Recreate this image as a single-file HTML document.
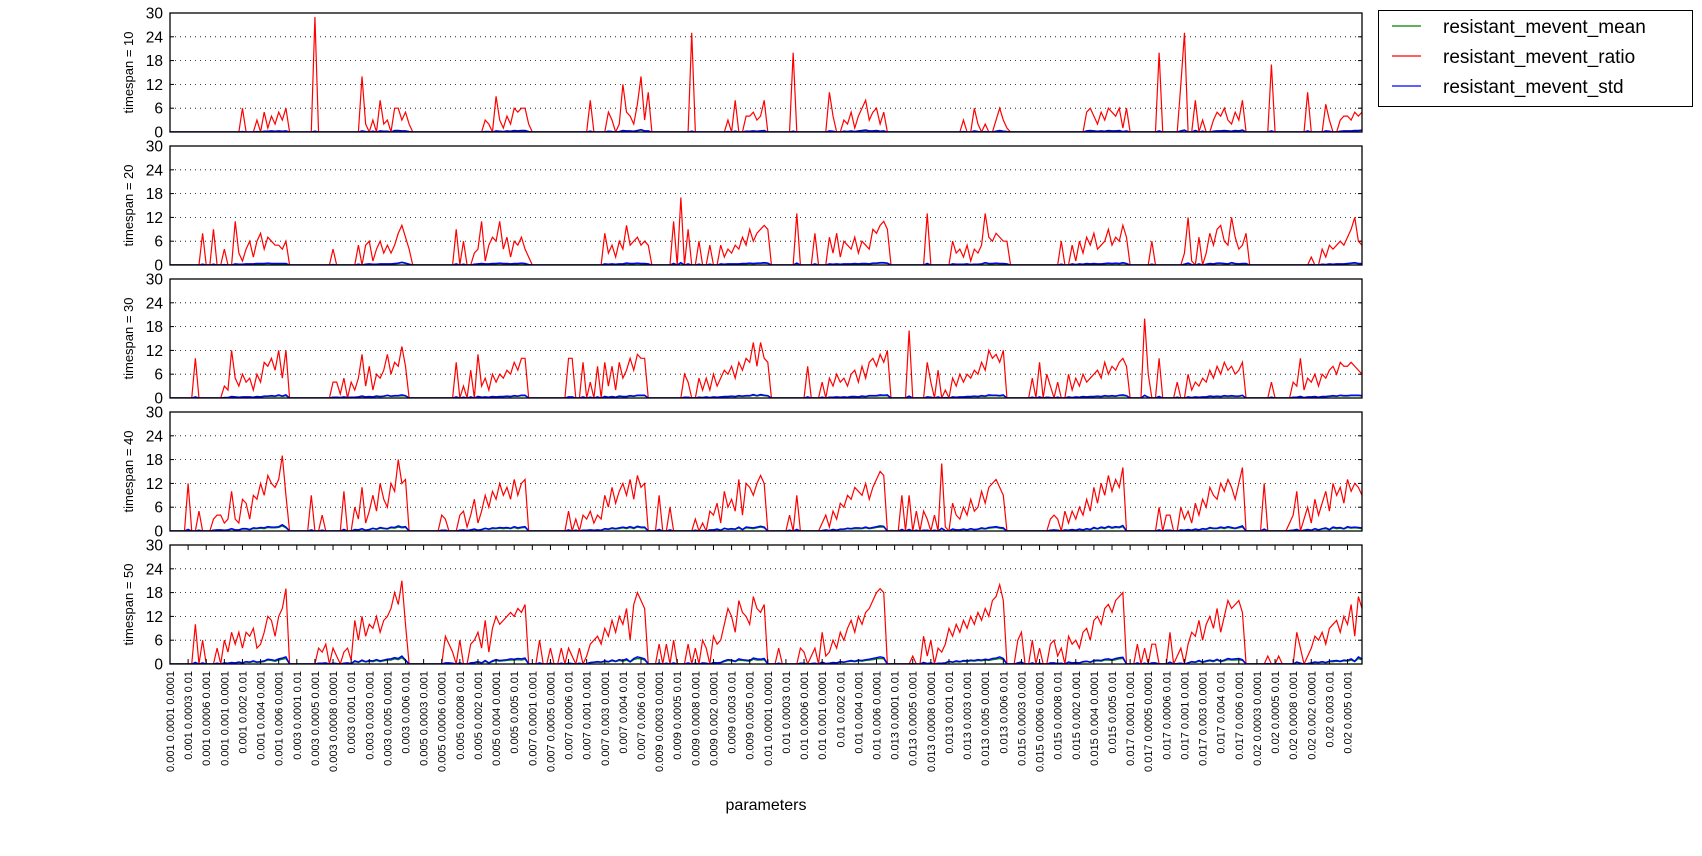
<!DOCTYPE html>
<html><head><meta charset="utf-8"><style>
html,body{margin:0;padding:0;background:#fff;}
svg{display:block;font-family:"Liberation Sans",sans-serif;}
</style></head><body>
<svg id="chart" width="1702" height="856" viewBox="0 0 1702 856" xmlns="http://www.w3.org/2000/svg">
<rect x="0" y="0" width="1702" height="856" fill="#fff"/>
<g id="panels"></g>
<g id="xlabels"></g>
<text x="766" y="810" font-size="16" text-anchor="middle">parameters</text>
<g>
<rect x="1378.5" y="10.5" width="314" height="96" fill="#fff" stroke="#000" stroke-width="1"/>
<g><line x1="1392" y1="26" x2="1421" y2="26" stroke="#008000" stroke-width="1.2"/><text x="1443" y="33" font-size="19">resistant_mevent_mean</text></g>
<g><line x1="1392" y1="56" x2="1421" y2="56" stroke="#ff0000" stroke-width="1.2"/><text x="1443" y="63" font-size="19">resistant_mevent_ratio</text></g>
<g><line x1="1392" y1="86" x2="1421" y2="86" stroke="#0000ff" stroke-width="1.2"/><text x="1443" y="93" font-size="19">resistant_mevent_std</text></g>
</g>
</svg>
<script>
const param1 = ["0.001","0.003","0.005","0.007","0.009","0.01","0.013","0.015","0.017","0.02"];
const param2 = ["0.0001","0.0003","0.0005","0.0006","0.0008","0.001","0.002","0.003","0.004","0.005","0.006"];
const param3 = ["0.0001","0.001","0.01"];
const timespans = [10,20,30,40,50];
const yTicks = [0,6,12,18,24,30];

const ratio10 = [
0,0,0,0,0,0,0,0,0,0,0,0,0,0,0,0,0,0,0,0,6,0,0,0,3,0,5,1,4,2,5,3,6,
0,0,0,0,0,0,0,29,0,0,0,0,0,0,0,0,0,0,0,0,14,2,0,3,0,8,2,3,0,6,6,3,5,
2,0,0,0,0,0,0,0,0,0,0,0,0,0,0,0,0,0,0,0,0,3,2,0,9,3,1,4,2,6,5,6,6,
2,0,0,0,0,0,0,0,0,0,0,0,0,0,0,0,0,8,0,0,0,0,5,3,0,2,12,5,4,2,7,14,3,
10,0,0,0,0,0,0,0,0,0,0,0,25,0,0,0,0,0,0,0,0,0,3,0,8,0,0,4,4,5,3,4,8,
0,0,0,0,0,0,0,20,0,0,0,0,0,0,0,0,0,10,4,0,0,3,2,5,1,4,6,8,3,5,6,2,5,
0,0,0,0,0,0,0,0,0,0,0,0,0,0,0,0,0,0,0,0,0,3,0,0,6,2,0,2,0,0,3,6,3,
1,0,0,0,0,0,0,0,0,0,0,0,0,0,0,0,0,0,0,0,0,0,5,6,4,2,5,3,6,5,4,6,1,
6,0,0,0,0,0,0,0,0,20,0,0,0,0,0,12,25,0,0,8,0,3,0,0,3,5,4,6,3,2,5,3,8,
0,0,0,0,0,0,0,17,0,0,0,0,0,0,0,0,0,10,0,0,0,0,7,3,0,0,3,4,4,3,5,4,5];
const std10 = [
0,0,0,0,0,0,0,0,0,0,0,0,0,0,0,0,0,0,0,0,0.1,0,0,0,0.1,0,0.2,0.2,0.3,0.2,0.3,0.2,0.3,
0,0,0,0,0,0,0,0.2,0,0,0,0,0,0,0,0,0,0,0,0,0.3,0.1,0,0.2,0,0.3,0.2,0.2,0,0.4,0.4,0.3,0.3,
0.1,0,0,0,0,0,0,0,0,0,0,0,0,0,0,0,0,0,0,0,0,0.1,0.1,0,0.3,0.2,0.1,0.3,0.2,0.4,0.3,0.4,0.4,
0.1,0,0,0,0,0,0,0,0,0,0,0,0,0,0,0,0,0.2,0,0,0,0,0.2,0.1,0,0.1,0.4,0.3,0.3,0.2,0.4,0.6,0.3,
0.3,0,0,0,0,0,0,0,0,0,0,0,0.2,0,0,0,0,0,0,0,0,0,0.1,0,0.2,0,0,0.2,0.2,0.3,0.2,0.3,0.4,
0,0,0,0,0,0,0,0.2,0,0,0,0,0,0,0,0,0,0.3,0.2,0,0,0.2,0.1,0.3,0.1,0.3,0.4,0.5,0.3,0.3,0.4,0.2,0.3,
0,0,0,0,0,0,0,0,0,0,0,0,0,0,0,0,0,0,0,0,0,0.1,0,0,0.3,0.1,0,0.1,0,0,0.2,0.4,0.2,
0.1,0,0,0,0,0,0,0,0,0,0,0,0,0,0,0,0,0,0,0,0,0,0.3,0.4,0.3,0.2,0.3,0.2,0.4,0.3,0.3,0.4,0.1,
0.3,0,0,0,0,0,0,0,0,0.3,0,0,0,0,0,0.3,0.5,0,0,0.4,0,0.2,0,0,0.2,0.3,0.3,0.4,0.3,0.2,0.4,0.3,0.5,
0,0,0,0,0,0,0,0.3,0,0,0,0,0,0,0,0,0,0.3,0,0,0,0,0.3,0.2,0,0,0.2,0.3,0.3,0.3,0.4,0.4,0.5];
const mean10 = [
0,0,0,0,0,0,0,0,0,0,0,0,0,0,0,0,0,0,0,0,0.1,0,0,0,0.1,0,0.2,0.2,0.2,0.2,0.2,0.2,0.2,
0,0,0,0,0,0,0,0.2,0,0,0,0,0,0,0,0,0,0,0,0,0.2,0.1,0,0.2,0,0.2,0.2,0.2,0,0.3,0.3,0.2,0.2,
0.1,0,0,0,0,0,0,0,0,0,0,0,0,0,0,0,0,0,0,0,0,0.1,0.1,0,0.2,0.2,0.1,0.2,0.2,0.3,0.2,0.3,0.3,
0.1,0,0,0,0,0,0,0,0,0,0,0,0,0,0,0,0,0.2,0,0,0,0,0.2,0.1,0,0.1,0.3,0.2,0.2,0.2,0.3,0.5,0.2,
0.2,0,0,0,0,0,0,0,0,0,0,0,0.2,0,0,0,0,0,0,0,0,0,0.1,0,0.2,0,0,0.2,0.2,0.2,0.2,0.2,0.3,
0,0,0,0,0,0,0,0.2,0,0,0,0,0,0,0,0,0,0.2,0.2,0,0,0.2,0.1,0.2,0.1,0.2,0.3,0.4,0.2,0.2,0.3,0.2,0.2,
0,0,0,0,0,0,0,0,0,0,0,0,0,0,0,0,0,0,0,0,0,0.1,0,0,0.2,0.1,0,0.1,0,0,0.2,0.3,0.2,
0.1,0,0,0,0,0,0,0,0,0,0,0,0,0,0,0,0,0,0,0,0,0,0.2,0.3,0.2,0.2,0.2,0.2,0.3,0.2,0.2,0.3,0.1,
0.2,0,0,0,0,0,0,0,0,0.2,0,0,0,0,0,0.2,0.4,0,0,0.3,0,0.2,0,0,0.2,0.2,0.2,0.3,0.2,0.2,0.3,0.2,0.4,
0,0,0,0,0,0,0,0.2,0,0,0,0,0,0,0,0,0,0.2,0,0,0,0,0.2,0.2,0,0,0.2,0.2,0.2,0.2,0.3,0.3,0.4];

const ratio20 = [
0,0,0,0,0,0,0,0,0,8,0,0,9,0,0,4,0,0,11,3,1,4,6,2,6,8,4,7,6,5,5,4,6,
0,0,0,0,0,0,0,0,0,0,0,0,4,0,0,0,0,0,0,5,0,5,6,1,4,6,3,5,3,5,8,10,7,
4,0,0,0,0,0,0,0,0,0,0,0,0,9,0,6,0,0,3,4,11,1,5,7,6,11,4,7,2,6,5,7,4,
2,0,0,0,0,0,0,0,0,0,0,0,0,0,0,0,0,0,0,0,0,8,3,5,2,6,4,10,5,6,7,5,6,
5,0,0,0,0,0,0,11,0,17,0,9,0,0,6,0,0,5,0,0,5,2,4,3,5,4,7,5,9,6,8,9,10,
9,0,0,0,0,0,0,0,13,0,0,0,0,8,0,0,0,7,3,8,2,6,5,4,7,3,6,5,4,9,8,10,11,
9,0,0,0,0,0,0,0,0,0,0,13,0,0,0,0,0,0,6,3,4,2,5,1,4,3,5,13,7,6,8,7,6,
6,0,0,0,0,0,0,0,0,0,0,0,0,0,0,6,0,0,5,1,6,3,7,5,8,4,5,6,9,5,7,6,10,
7,0,0,0,0,0,0,6,0,0,0,0,0,0,0,0,3,12,1,0,7,0,3,8,5,9,10,6,5,12,7,4,5,
8,0,0,0,0,0,0,0,0,0,0,0,0,0,0,0,0,0,2,0,0,4,2,5,4,5,6,5,7,9,12,6,5];
const std20 = [
0,0,0,0,0,0,0,0,0,0.2,0,0,0.2,0,0,0.1,0,0,0.3,0.2,0.2,0.3,0.3,0.3,0.4,0.4,0.4,0.5,0.4,0.4,0.4,0.4,0.4,
0,0,0,0,0,0,0,0,0,0,0,0,0.1,0,0,0,0,0,0,0.2,0,0.2,0.3,0.2,0.2,0.3,0.3,0.3,0.3,0.4,0.5,0.7,0.5,
0.2,0,0,0,0,0,0,0,0,0,0,0,0,0.3,0,0.2,0,0,0.2,0.3,0.4,0.3,0.3,0.4,0.4,0.5,0.4,0.4,0.3,0.4,0.4,0.5,0.4,
0.1,0,0,0,0,0,0,0,0,0,0,0,0,0,0,0,0,0,0,0,0,0.3,0.2,0.3,0.2,0.3,0.3,0.5,0.4,0.4,0.5,0.4,0.4,
0.3,0,0,0,0,0,0,0.4,0,0.6,0,0.3,0,0,0.2,0,0,0.2,0,0,0.3,0.2,0.3,0.3,0.3,0.3,0.4,0.4,0.5,0.4,0.5,0.5,0.6,
0.5,0,0,0,0,0,0,0,0.5,0,0,0,0,0.3,0,0,0,0.3,0.2,0.3,0.2,0.3,0.3,0.3,0.4,0.3,0.4,0.4,0.3,0.5,0.5,0.6,0.6,
0.5,0,0,0,0,0,0,0,0,0,0,0.4,0,0,0,0,0,0,0.3,0.2,0.2,0.2,0.3,0.1,0.2,0.2,0.3,0.6,0.4,0.4,0.5,0.4,0.4,
0.3,0,0,0,0,0,0,0,0,0,0,0,0,0,0,0.2,0,0,0.3,0.1,0.3,0.2,0.4,0.3,0.4,0.3,0.3,0.4,0.5,0.4,0.5,0.4,0.6,
0.4,0,0,0,0,0,0,0.2,0,0,0,0,0,0,0,0,0.2,0.5,0.1,0,0.3,0,0.2,0.4,0.3,0.5,0.5,0.4,0.3,0.6,0.4,0.3,0.4,
0.4,0,0,0,0,0,0,0,0,0,0,0,0,0,0,0,0,0,0.1,0,0,0.2,0.1,0.3,0.2,0.3,0.3,0.3,0.4,0.5,0.6,0.4,0.4];
const mean20 = [
0,0,0,0,0,0,0,0,0,0.2,0,0,0.2,0,0,0.1,0,0,0.2,0.2,0.2,0.2,0.2,0.2,0.3,0.3,0.3,0.4,0.3,0.3,0.3,0.3,0.3,
0,0,0,0,0,0,0,0,0,0,0,0,0.1,0,0,0,0,0,0,0.2,0,0.2,0.2,0.2,0.2,0.2,0.2,0.2,0.2,0.3,0.4,0.6,0.4,
0.2,0,0,0,0,0,0,0,0,0,0,0,0,0.2,0,0.2,0,0,0.2,0.2,0.3,0.2,0.2,0.3,0.3,0.4,0.3,0.3,0.2,0.3,0.3,0.4,0.3,
0.1,0,0,0,0,0,0,0,0,0,0,0,0,0,0,0,0,0,0,0,0,0.2,0.2,0.2,0.2,0.2,0.2,0.4,0.3,0.3,0.4,0.3,0.3,
0.2,0,0,0,0,0,0,0.3,0,0.5,0,0.2,0,0,0.2,0,0,0.2,0,0,0.2,0.2,0.2,0.2,0.2,0.2,0.3,0.3,0.4,0.3,0.4,0.4,0.5,
0.4,0,0,0,0,0,0,0,0.4,0,0,0,0,0.2,0,0,0,0.2,0.2,0.2,0.2,0.2,0.2,0.2,0.3,0.2,0.3,0.3,0.2,0.4,0.4,0.5,0.5,
0.4,0,0,0,0,0,0,0,0,0,0,0.3,0,0,0,0,0,0,0.2,0.2,0.2,0.2,0.2,0.1,0.2,0.2,0.2,0.5,0.3,0.3,0.4,0.3,0.3,
0.2,0,0,0,0,0,0,0,0,0,0,0,0,0,0,0.2,0,0,0.2,0.1,0.2,0.2,0.3,0.2,0.3,0.2,0.2,0.3,0.4,0.3,0.4,0.3,0.5,
0.3,0,0,0,0,0,0,0.2,0,0,0,0,0,0,0,0,0.2,0.4,0.1,0,0.2,0,0.2,0.3,0.2,0.4,0.4,0.3,0.2,0.5,0.3,0.2,0.3,
0.3,0,0,0,0,0,0,0,0,0,0,0,0,0,0,0,0,0,0.1,0,0,0.2,0.1,0.2,0.2,0.2,0.2,0.2,0.3,0.4,0.5,0.3,0.3];

const ratio30 = [
0,0,0,0,0,0,0,10,0,0,0,0,0,0,0,3,2,12,5,3,6,4,5,2,6,4,9,8,10,7,12,5,12,
0,0,0,0,0,0,0,0,0,0,0,0,4,4,1,5,0,4,2,5,11,3,8,2,6,5,7,11,6,9,8,13,8,
0,0,0,0,0,0,0,0,0,0,0,0,0,9,0,3,0,7,0,11,3,5,2,6,4,6,5,7,6,9,7,10,10,
0,0,0,0,0,0,0,0,0,0,0,10,10,0,0,9,0,4,0,8,0,9,3,8,2,9,5,7,10,7,11,10,10,
0,0,0,0,0,0,0,0,0,0,6,4,0,0,5,2,5,2,6,3,5,7,6,8,5,9,7,10,9,14,8,14,10,
9,0,0,0,0,0,0,0,0,0,0,8,0,0,0,4,0,5,3,6,4,5,3,6,7,4,8,5,9,10,8,11,9,
12,0,0,0,0,0,17,0,0,0,0,9,4,0,7,0,2,0,5,3,6,4,6,5,7,6,9,7,12,10,11,9,12,
0,0,0,0,0,0,0,5,0,9,0,6,3,0,4,0,0,6,2,5,3,6,4,5,6,7,5,9,6,8,7,9,10,
8,0,0,0,0,20,6,0,0,10,0,0,0,0,4,0,0,6,2,4,3,5,4,7,5,8,6,9,7,8,6,7,9,
0,0,0,0,0,0,0,4,0,0,0,0,0,4,3,10,2,5,4,6,3,6,5,7,8,6,9,8,8,9,8,7,6];
const std30 = [
0,0,0,0,0,0,0,0.3,0,0,0,0,0,0,0,0.1,0.1,0.4,0.3,0.2,0.3,0.3,0.3,0.2,0.4,0.3,0.5,0.5,0.6,0.5,0.8,0.5,0.8,
0,0,0,0,0,0,0,0,0,0,0,0,0.2,0.2,0.1,0.3,0.1,0.2,0.2,0.3,0.5,0.3,0.4,0.3,0.5,0.4,0.5,0.7,0.5,0.6,0.6,0.8,0.6,
0,0,0,0,0,0,0,0,0,0,0,0,0,0.3,0,0.2,0,0.3,0,0.4,0.2,0.3,0.2,0.4,0.3,0.4,0.4,0.5,0.4,0.6,0.5,0.7,0.7,
0,0,0,0,0,0,0,0,0,0,0,0.3,0.3,0,0,0.3,0,0.2,0,0.3,0,0.4,0.2,0.4,0.2,0.5,0.4,0.4,0.6,0.5,0.7,0.7,0.7,
0,0,0,0,0,0,0,0,0,0,0.2,0.2,0,0,0.2,0.1,0.3,0.1,0.3,0.2,0.3,0.4,0.4,0.5,0.4,0.6,0.5,0.6,0.6,0.9,0.6,0.9,0.7,
0.6,0,0,0,0,0,0,0,0,0,0,0.3,0,0,0,0.2,0,0.2,0.2,0.3,0.2,0.3,0.2,0.4,0.4,0.3,0.5,0.4,0.6,0.6,0.6,0.8,0.7,
0.8,0,0,0,0,0,0.5,0,0,0,0,0.3,0.2,0,0.3,0,0.1,0,0.3,0.2,0.3,0.3,0.4,0.4,0.5,0.4,0.6,0.5,0.8,0.7,0.7,0.6,0.8,
0,0,0,0,0,0,0,0.2,0,0.3,0,0.2,0.1,0,0.2,0,0,0.3,0.1,0.3,0.2,0.4,0.3,0.4,0.4,0.5,0.4,0.6,0.5,0.6,0.5,0.7,0.8,
0.6,0,0,0,0,0.7,0.2,0,0,0.4,0,0,0,0,0.2,0,0,0.3,0.1,0.3,0.2,0.3,0.3,0.5,0.4,0.5,0.4,0.6,0.5,0.6,0.5,0.5,0.7,
0,0,0,0,0,0,0,0.2,0,0,0,0,0,0.2,0.2,0.4,0.1,0.3,0.3,0.4,0.2,0.4,0.4,0.5,0.6,0.5,0.7,0.6,0.6,0.7,0.7,0.7,0.6];
const mean30 = [
0,0,0,0,0,0,0,0.2,0,0,0,0,0,0,0,0.1,0.1,0.3,0.2,0.2,0.2,0.2,0.2,0.2,0.3,0.2,0.4,0.4,0.5,0.4,0.6,0.4,0.6,
0,0,0,0,0,0,0,0,0,0,0,0,0.2,0.2,0.1,0.2,0.1,0.2,0.2,0.2,0.4,0.2,0.3,0.2,0.4,0.3,0.4,0.6,0.4,0.5,0.5,0.6,0.5,
0,0,0,0,0,0,0,0,0,0,0,0,0,0.2,0,0.2,0,0.2,0,0.3,0.2,0.2,0.2,0.3,0.2,0.3,0.3,0.4,0.3,0.5,0.4,0.6,0.6,
0,0,0,0,0,0,0,0,0,0,0,0.2,0.2,0,0,0.2,0,0.2,0,0.2,0,0.3,0.2,0.3,0.2,0.4,0.3,0.3,0.5,0.4,0.6,0.6,0.6,
0,0,0,0,0,0,0,0,0,0,0.2,0.2,0,0,0.2,0.1,0.2,0.1,0.2,0.2,0.2,0.3,0.3,0.4,0.3,0.5,0.4,0.5,0.5,0.7,0.5,0.7,0.6,
0.5,0,0,0,0,0,0,0,0,0,0,0.2,0,0,0,0.2,0,0.2,0.2,0.2,0.2,0.2,0.2,0.3,0.3,0.2,0.4,0.3,0.5,0.5,0.5,0.6,0.6,
0.6,0,0,0,0,0,0.4,0,0,0,0,0.2,0.2,0,0.2,0,0.1,0,0.2,0.2,0.2,0.2,0.3,0.3,0.4,0.3,0.5,0.4,0.6,0.6,0.6,0.5,0.6,
0,0,0,0,0,0,0,0.2,0,0.2,0,0.2,0.1,0,0.2,0,0,0.2,0.1,0.2,0.2,0.3,0.2,0.3,0.3,0.4,0.3,0.5,0.4,0.5,0.4,0.6,0.6,
0.5,0,0,0,0,0.6,0.2,0,0,0.3,0,0,0,0,0.2,0,0,0.2,0.1,0.2,0.2,0.2,0.2,0.4,0.3,0.4,0.3,0.5,0.4,0.5,0.4,0.4,0.6,
0,0,0,0,0,0,0,0.2,0,0,0,0,0,0.2,0.2,0.3,0.1,0.2,0.2,0.3,0.2,0.3,0.3,0.4,0.5,0.4,0.6,0.5,0.5,0.6,0.6,0.6,0.5];

const ratio40 = [
0,0,0,0,0,12,0,0,5,0,0,0,3,4,4,2,3,10,3,2,8,7,3,9,8,12,9,14,12,11,13,19,9,
0,0,0,0,0,0,9,0,0,4,0,0,0,0,0,10,0,0,6,3,11,2,5,9,5,12,8,6,12,10,18,12,13,
0,0,0,0,0,0,0,0,0,4,3,0,0,0,4,5,1,4,8,2,5,9,6,10,8,12,9,11,8,13,9,12,13,
0,0,0,0,0,0,0,0,0,0,0,5,0,3,0,4,3,5,2,4,3,9,6,11,7,10,12,9,13,8,14,11,12,
0,0,0,9,0,0,6,0,0,0,0,0,0,3,0,2,0,5,4,7,2,10,6,8,5,13,4,12,11,9,12,14,12,
0,0,0,0,0,0,4,0,9,0,0,0,0,0,0,2,4,1,5,3,7,6,9,8,11,10,9,12,8,11,13,15,14,
0,0,0,0,9,0,9,0,5,0,5,3,0,4,0,17,1,0,7,4,3,6,4,8,5,6,10,7,11,12,13,11,9,
0,0,0,0,0,0,0,0,0,0,0,0,3,4,3,0,5,2,5,3,6,4,8,5,11,7,12,9,14,10,13,11,16,
0,0,0,0,0,0,0,0,0,6,0,4,4,0,0,6,3,5,2,7,4,8,6,11,9,8,12,10,13,11,8,12,16,
0,0,0,0,0,12,0,0,0,0,0,0,2,4,10,0,3,6,2,8,4,7,10,5,12,9,11,7,13,10,12,11,9];
const std40 = [
0,0,0,0,0,0.4,0,0,0.2,0,0,0,0.2,0.3,0.3,0.2,0.3,0.6,0.3,0.3,0.6,0.6,0.4,0.8,0.7,0.9,0.8,1.1,1.0,1.0,1.1,1.6,1.0,
0,0,0,0,0,0,0.3,0,0,0.2,0,0,0,0,0,0.4,0,0,0.4,0.3,0.6,0.2,0.4,0.7,0.5,0.9,0.7,0.6,1.0,0.9,1.3,1.0,1.1,
0,0,0,0,0,0,0,0,0,0.2,0.2,0,0,0,0.2,0.3,0.1,0.3,0.5,0.2,0.4,0.7,0.5,0.8,0.7,0.9,0.8,0.9,0.7,1.1,0.8,1.0,1.1,
0,0,0,0,0,0,0,0,0,0,0,0.3,0,0.2,0,0.2,0.2,0.3,0.2,0.3,0.2,0.6,0.5,0.8,0.6,0.8,1.0,0.8,1.1,0.8,1.2,1.0,1.0,
0,0,0,0.4,0,0,0.3,0,0,0,0,0,0,0.2,0,0.1,0,0.3,0.3,0.5,0.2,0.7,0.5,0.6,0.5,1.0,0.4,1.0,0.9,0.8,1.0,1.2,1.0,
0,0,0,0,0,0,0.2,0,0.4,0,0,0,0,0,0,0.1,0.3,0.1,0.4,0.2,0.5,0.5,0.7,0.6,0.8,0.8,0.7,1.0,0.7,0.9,1.1,1.3,1.2,
0,0,0,0,0.4,0,0.4,0,0.2,0,0.2,0.2,0,0.2,0,0.7,0.1,0,0.5,0.3,0.3,0.5,0.3,0.6,0.4,0.5,0.8,0.6,0.9,1.0,1.1,0.9,0.8,
0,0,0,0,0,0,0,0,0,0,0,0,0.2,0.3,0.2,0,0.3,0.2,0.4,0.2,0.5,0.3,0.6,0.4,0.9,0.6,1.0,0.8,1.2,0.9,1.1,1.0,1.4,
0,0,0,0,0,0,0,0,0,0.3,0,0.2,0.2,0,0,0.3,0.2,0.4,0.2,0.5,0.3,0.6,0.5,0.9,0.7,0.7,1.0,0.8,1.1,0.9,0.7,1.0,1.3,
0,0,0,0,0,0.5,0,0,0,0,0,0,0.1,0.2,0.4,0,0.2,0.4,0.2,0.6,0.3,0.6,0.8,0.4,1.0,0.8,0.9,0.6,1.1,0.9,1.0,0.9,0.8];
const mean40 = [
0,0,0,0,0,0.3,0,0,0.2,0,0,0,0.2,0.2,0.2,0.2,0.2,0.5,0.2,0.2,0.5,0.5,0.3,0.6,0.6,0.7,0.6,0.9,0.8,0.8,0.9,1.3,0.8,
0,0,0,0,0,0,0.2,0,0,0.2,0,0,0,0,0,0.3,0,0,0.3,0.2,0.5,0.2,0.3,0.6,0.4,0.7,0.6,0.5,0.8,0.7,1.0,0.8,0.9,
0,0,0,0,0,0,0,0,0,0.2,0.2,0,0,0,0.2,0.2,0.1,0.2,0.4,0.2,0.3,0.6,0.4,0.6,0.6,0.7,0.6,0.7,0.6,0.9,0.6,0.8,0.9,
0,0,0,0,0,0,0,0,0,0,0,0.2,0,0.2,0,0.2,0.2,0.2,0.2,0.2,0.2,0.5,0.4,0.6,0.5,0.6,0.8,0.6,0.9,0.6,1.0,0.8,0.8,
0,0,0,0.3,0,0,0.2,0,0,0,0,0,0,0.2,0,0.1,0,0.2,0.2,0.4,0.2,0.6,0.4,0.5,0.4,0.8,0.3,0.8,0.7,0.6,0.8,1.0,0.8,
0,0,0,0,0,0,0.2,0,0.3,0,0,0,0,0,0,0.1,0.2,0.1,0.3,0.2,0.4,0.4,0.6,0.5,0.6,0.6,0.6,0.8,0.6,0.7,0.9,1.0,1.0,
0,0,0,0,0.3,0,0.3,0,0.2,0,0.2,0.2,0,0.2,0,0.6,0.1,0,0.4,0.2,0.2,0.4,0.2,0.5,0.3,0.4,0.6,0.5,0.7,0.8,0.9,0.7,0.6,
0,0,0,0,0,0,0,0,0,0,0,0,0.2,0.2,0.2,0,0.2,0.2,0.3,0.2,0.4,0.2,0.5,0.3,0.7,0.5,0.8,0.6,1.0,0.7,0.9,0.8,1.1,
0,0,0,0,0,0,0,0,0,0.2,0,0.2,0.2,0,0,0.2,0.2,0.3,0.2,0.4,0.2,0.5,0.4,0.7,0.6,0.6,0.8,0.6,0.9,0.7,0.6,0.8,1.0,
0,0,0,0,0,0.4,0,0,0,0,0,0,0.1,0.2,0.3,0,0.2,0.3,0.2,0.5,0.2,0.5,0.6,0.3,0.8,0.6,0.7,0.5,0.9,0.7,0.8,0.7,0.6];

const ratio50 = [
0,0,0,0,0,0,0,10,0,6,0,0,0,4,0,6,3,8,5,8,4,8,7,9,4,5,8,12,11,7,12,14,19,
0,0,0,0,0,0,0,0,4,3,5,0,4,2,0,3,4,1,11,6,12,7,10,9,12,8,11,12,14,18,15,21,10,
0,0,0,0,0,0,0,0,0,0,7,5,3,0,6,0,0,5,6,8,4,11,3,9,12,10,11,12,13,12,14,13,15,
0,0,0,6,0,0,4,0,0,4,0,4,2,0,4,0,2,5,6,7,5,9,7,11,8,12,10,14,6,15,18,16,14,
0,0,0,5,0,5,0,6,0,0,0,5,0,4,0,6,4,0,7,5,6,10,14,12,8,16,13,12,10,17,14,13,15,
0,0,0,4,0,0,0,0,0,4,3,0,2,4,0,8,2,3,6,4,8,6,9,11,8,12,10,13,14,16,18,19,18,
0,0,0,0,0,0,0,2,0,0,7,2,6,0,4,3,5,9,7,10,8,11,9,12,10,13,11,14,12,16,17,20,16,
0,0,0,6,8,0,0,6,0,4,0,0,5,6,2,4,0,7,5,6,4,8,9,6,11,12,10,14,15,13,16,17,18,
0,0,0,5,0,4,0,5,5,0,0,0,8,0,2,4,0,5,8,7,11,6,10,12,9,14,8,12,16,14,15,16,13,
0,0,0,0,0,0,2,0,0,2,0,0,0,0,8,4,0,2,4,7,6,8,5,9,10,11,8,12,10,15,7,17,14];
const std50 = [
0,0,0,0,0,0,0,0.4,0,0.3,0,0,0,0.2,0,0.3,0.2,0.4,0.3,0.5,0.3,0.6,0.5,0.8,0.5,0.6,0.8,1.2,1.1,0.9,1.3,1.5,1.8,
0,0,0,0,0,0,0,0,0.2,0.2,0.3,0,0.2,0.1,0,0.2,0.3,0.1,0.8,0.5,1.0,0.6,0.9,0.8,1.1,0.8,1.0,1.2,1.3,1.6,1.4,2.0,1.0,
0,0,0,0,0,0,0,0,0,0,0.3,0.3,0.2,0,0.3,0,0,0.3,0.4,0.6,0.3,0.9,0.3,0.8,1.1,0.9,1.0,1.1,1.3,1.2,1.4,1.3,1.5,
0,0,0,0.3,0,0,0.2,0,0,0.2,0,0.2,0.1,0,0.2,0,0.1,0.4,0.5,0.6,0.5,0.8,0.6,1.0,0.7,1.1,0.9,1.3,0.6,1.4,1.8,1.6,1.3,
0,0,0,0.2,0,0.2,0,0.3,0,0,0,0.3,0,0.2,0,0.3,0.2,0,0.4,0.3,0.4,0.8,1.1,1.0,0.7,1.3,1.1,1.0,0.9,1.5,1.3,1.2,1.4,
0,0,0,0.2,0,0,0,0,0,0.2,0.2,0,0.1,0.2,0,0.5,0.1,0.2,0.4,0.3,0.6,0.5,0.7,0.9,0.7,1.0,0.9,1.1,1.2,1.4,1.6,1.8,1.6,
0,0,0,0,0,0,0,0.1,0,0,0.4,0.1,0.3,0,0.2,0.2,0.3,0.7,0.5,0.8,0.6,0.9,0.8,1.0,0.9,1.1,1.0,1.2,1.1,1.4,1.5,1.8,1.4,
0,0,0,0.3,0.5,0,0,0.3,0,0.2,0,0,0.3,0.3,0.1,0.2,0,0.5,0.3,0.4,0.3,0.6,0.7,0.5,0.9,1.0,0.9,1.2,1.3,1.1,1.4,1.6,1.7,
0,0,0,0.3,0,0.2,0,0.3,0.3,0,0,0,0.5,0,0.1,0.2,0,0.3,0.6,0.5,0.9,0.5,0.8,1.0,0.8,1.2,0.7,1.0,1.4,1.2,1.3,1.4,1.1,
0,0,0,0,0,0,0.1,0,0,0.1,0,0,0,0,0.5,0.2,0,0.1,0.3,0.5,0.4,0.6,0.4,0.7,0.8,0.9,0.7,1.0,0.9,1.3,0.7,1.8,1.3];
const mean50 = [
0,0,0,0,0,0,0,0.3,0,0.2,0,0,0,0.2,0,0.2,0.2,0.3,0.2,0.4,0.2,0.5,0.4,0.6,0.4,0.5,0.6,1.0,0.9,0.7,1.0,1.2,1.4,
0,0,0,0,0,0,0,0,0.2,0.2,0.2,0,0.2,0.1,0,0.2,0.2,0.1,0.6,0.4,0.8,0.5,0.7,0.6,0.9,0.6,0.8,1.0,1.0,1.3,1.1,1.6,0.8,
0,0,0,0,0,0,0,0,0,0,0.2,0.2,0.2,0,0.2,0,0,0.2,0.3,0.5,0.2,0.7,0.2,0.6,0.9,0.7,0.8,0.9,1.0,1.0,1.1,1.0,1.2,
0,0,0,0.2,0,0,0.2,0,0,0.2,0,0.2,0.1,0,0.2,0,0.1,0.3,0.4,0.5,0.4,0.6,0.5,0.8,0.6,0.9,0.7,1.0,0.5,1.1,1.4,1.3,1.0,
0,0,0,0.2,0,0.2,0,0.2,0,0,0,0.2,0,0.2,0,0.2,0.2,0,0.3,0.2,0.3,0.6,0.9,0.8,0.6,1.0,0.9,0.8,0.7,1.2,1.0,1.0,1.1,
0,0,0,0.2,0,0,0,0,0,0.2,0.2,0,0.1,0.2,0,0.4,0.1,0.2,0.3,0.2,0.5,0.4,0.6,0.7,0.6,0.8,0.7,0.9,1.0,1.1,1.3,1.4,1.3,
0,0,0,0,0,0,0,0.1,0,0,0.3,0.1,0.2,0,0.2,0.2,0.2,0.6,0.4,0.6,0.5,0.7,0.6,0.8,0.7,0.9,0.8,1.0,0.9,1.1,1.2,1.4,1.1,
0,0,0,0.2,0.4,0,0,0.2,0,0.2,0,0,0.2,0.2,0.1,0.2,0,0.4,0.2,0.3,0.2,0.5,0.6,0.4,0.7,0.8,0.7,1.0,1.0,0.9,1.1,1.3,1.4,
0,0,0,0.2,0,0.2,0,0.2,0.2,0,0,0,0.4,0,0.1,0.2,0,0.2,0.5,0.4,0.7,0.4,0.6,0.8,0.6,1.0,0.6,0.8,1.1,1.0,1.0,1.1,0.9,
0,0,0,0,0,0,0.1,0,0,0.1,0,0,0,0,0.4,0.2,0,0.1,0.2,0.4,0.3,0.5,0.3,0.6,0.6,0.7,0.6,0.8,0.7,1.0,0.6,1.4,1.0];

const ratioSeries = [ratio10, ratio20, ratio30, ratio40, ratio50];
const stdSeries = [std10, std20, std30, std40, std50];
const meanSeries = [mean10, mean20, mean30, mean40, mean50];

// layout
const NS = "http://www.w3.org/2000/svg";
const L = 170, R = 1362, PH = 119, TOPS = [13, 146, 279, 412, 545];
const N = 330, YMAX = 30;
function xScale(i){ return L + i * (R - L) / (N - 1); }
function yScale(v, top){ return top + PH - v * PH / YMAX; }
function mk(tag, attrs, parent){
  const e = document.createElementNS(NS, tag);
  for (const k in attrs) e.setAttribute(k, attrs[k]);
  parent.appendChild(e);
  return e;
}
const panelsG = document.getElementById('panels');
const defs = mk('defs', {}, panelsG);

timespans.forEach((ts, p) => {
  const top = TOPS[p];
  const g = mk('g', {}, panelsG);
  
  
  const cp = mk('clipPath', {id: 'clip' + p}, defs);
  mk('rect', {x: L, y: top, width: R - L, height: PH}, cp);
  // grid
  yTicks.forEach(t => {
    if (t > 0 && t < YMAX) {
      const gl = mk('line', {x1: L, x2: R, y1: yScale(t, top), y2: yScale(t, top), stroke: '#000', 'stroke-width': 0.8, 'stroke-dasharray': '1,4'}, g);
      
      
    }
    const tl = mk('text', {x: L - 7, y: yScale(t, top) + 5.5, 'font-size': 15.5, 'text-anchor': 'end'}, g);
    tl.textContent = t;
    
    
    mk('line', {x1: L, x2: L + 4, y1: yScale(t, top), y2: yScale(t, top), stroke: '#000', 'stroke-width': 1}, g);
    mk('line', {x1: R - 4, x2: R, y1: yScale(t, top), y2: yScale(t, top), stroke: '#000', 'stroke-width': 1}, g);
  });
  // y title
  const cy = top + PH / 2;
  const yt = mk('text', {x: 133, y: cy, 'font-size': 13, 'text-anchor': 'middle', transform: 'rotate(-90 133 ' + cy + ')'}, g);
  yt.textContent = 'timespan = ' + ts;
  
  
  // series
  const series = [[meanSeries[p], '#008000', 'line-mean'], [ratioSeries[p], '#ff0000', 'line-ratio'], [stdSeries[p], '#0000ff', 'line-std']];
  series.forEach(([arr, col, nm]) => {
    let d = '';
    arr.forEach((v, i) => { d += (i ? 'L' : 'M') + xScale(i).toFixed(2) + ',' + yScale(v, top).toFixed(2); });
    const path = mk('path', {d: d, fill: 'none', stroke: col, 'stroke-width': nm === 'line-ratio' ? 1.2 : 1.4, 'stroke-linejoin': 'miter', 'clip-path': 'url(#clip' + p + ')'}, g);
    
    
  });
  // x ticks on bottom panel
  if (p === timespans.length - 1) {
    for (let i = 0; i < N; i += 5) {
      mk('line', {x1: xScale(i), x2: xScale(i), y1: top, y2: top + 5, stroke: '#000', 'stroke-width': 1}, g);
      mk('line', {x1: xScale(i), x2: xScale(i), y1: top + PH - 5, y2: top + PH, stroke: '#000', 'stroke-width': 1}, g);
    }
  }
  const frame = mk('rect', {x: L, y: top, width: R - L, height: PH, fill: 'none', stroke: '#000', 'stroke-width': 1.3}, g);
  
  
});

// x tick labels
const xl = document.getElementById('xlabels');
const perGroup = param2.length * param3.length;
for (let i = 0; i < N; i += 5) {
  const a = Math.floor(i / perGroup), r = i % perGroup;
  const lab = param1[a] + ' ' + param2[Math.floor(r / param3.length)] + ' ' + param3[r % param3.length];
  const x = xScale(i) + 4, y = 671;
  const t = mk('text', {x: x, y: y, 'font-size': 11, 'text-anchor': 'end', transform: 'rotate(-90 ' + x + ' ' + y + ')'}, xl);
  t.textContent = lab;
  
  
}
</script>
</body></html>
